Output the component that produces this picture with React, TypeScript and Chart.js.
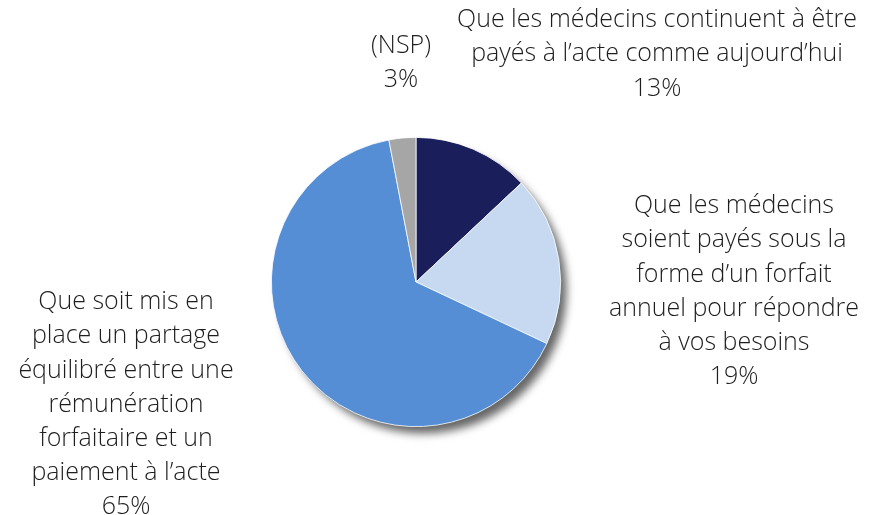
import React, { useEffect, useRef } from "react";
import { Chart, registerables } from "chart.js";

Chart.register(...registerables);

const categories = [
  "Que les médecins continuent à être payés à l'acte comme aujourd'hui",
  "Que les médecins soient payés sous la forme d'un forfait annuel pour répondre à vos besoins",
  "Que soit mis en place un partage équilibré entre une rémunération forfaitaire et un paiement à l'acte",
  "(NSP)",
];
const values = [13, 19, 65, 3];
const colors = ["#1a1f5c", "#c6d9f0", "#558ed5", "#a6a6a6"];
const labelLines = [
  ["Que les médecins continuent à être", "payés à l\u2019acte comme aujourd\u2019hui"],
  ["Que les médecins", "soient payés sous la", "forme d\u2019un forfait", "annuel pour répondre", "à vos besoins"],
  ["Que soit mis en", "place un partage", "équilibré entre une", "rémunération", "forfaitaire et un", "paiement à l\u2019acte"],
  ["(NSP)"],
];
// label anchor: center x, first line center y
const labelAnchors = [
  [657, 20],
  [734, 206],
  [126, 302],
  [401, 46],
];

const FONT = "300 25px 'Open Sans', sans-serif";
const LINE_H = 34.2;

const shadowPlugin = {
  id: "pieShadow",
  beforeDatasetsDraw(chart: any) {
    const meta = chart.getDatasetMeta(0);
    const arc = meta.data[0];
    if (!arc) return;
    const { x, y, outerRadius } = arc.getProps(["x", "y", "outerRadius"], true);
    const ctx = chart.ctx;
    ctx.save();
    ctx.shadowColor = "rgba(0,0,0,0.6)";
    ctx.shadowBlur = 8;
    ctx.shadowOffsetX = 7;
    ctx.shadowOffsetY = 8;
    ctx.beginPath();
    ctx.arc(x, y, outerRadius - 1, 0, Math.PI * 2);
    ctx.fillStyle = "#888";
    ctx.fill();
    ctx.restore();
  },
};

const labelPlugin = {
  id: "outerLabels",
  afterDatasetsDraw(chart: any) {
    const ctx = chart.ctx;
    ctx.save();
    ctx.font = FONT;
    ctx.fillStyle = "#1e1e1e";
    ctx.textAlign = "center";
    ctx.textBaseline = "middle";
    const data = chart.data.datasets[0].data as number[];
    labelLines.forEach((lines, i) => {
      const [cx, cy] = labelAnchors[i];
      const all = [...lines, `${data[i]}%`];
      all.forEach((t, j) => ctx.fillText(t, cx, cy + j * LINE_H));
    });
    ctx.restore();
  },
};

export default function App() {
  const ref = useRef<HTMLCanvasElement>(null);
  useEffect(() => {
    document.body.style.margin = "0";
    const chart = new Chart(ref.current!, {
      type: "pie",
      data: {
        labels: categories,
        datasets: [
          {
            data: values,
            backgroundColor: colors,
            borderColor: "#ffffff",
            borderWidth: 0.8,
          },
        ],
      },
      options: {
        animation: false,
        responsive: false,
        layout: { padding: { left: 271, right: 314, top: 137, bottom: 88 } },
        plugins: { legend: { display: false }, tooltip: { enabled: false } },
      },
      plugins: [shadowPlugin, labelPlugin],
    });
    return () => chart.destroy();
  }, []);
  return (
    <div style={{ position: "absolute", left: 0, top: 0, width: 875, height: 515, background: "#fff" }}>
      <canvas ref={ref} width={875} height={515} />
    </div>
  );
}
